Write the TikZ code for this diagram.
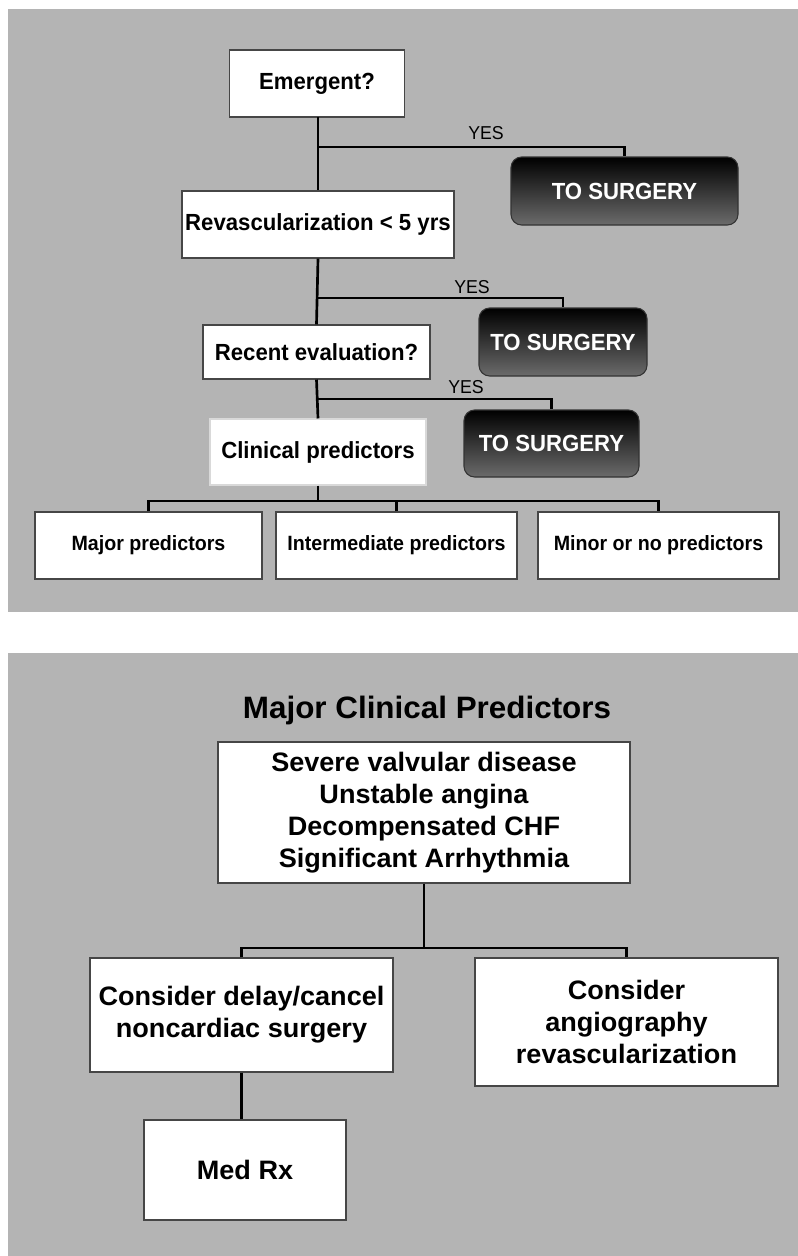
\documentclass[tikz,border=0pt]{standalone}
\usepackage{fontspec}
\setmainfont{Liberation Sans}
\newfontfamily\topfont[FakeStretch=0.95]{Liberation Sans}
\newfontfamily\botfont[FakeStretch=1.015]{Liberation Sans}
\definecolor{panelgray}{RGB}{180,180,180}
\definecolor{boxedge}{RGB}{70,70,70}
\begin{document}
\begin{tikzpicture}[x=0.75pt,y=-0.75pt,
  box/.style={draw=boxedge,line width=0.8pt,fill=white,inner sep=0pt,align=center},
  topbox/.style={box,font=\topfont\bfseries\fontsize{17.5}{21}\selectfont},
  predbox/.style={box,font=\topfont\bfseries\fontsize{15.5}{19}\selectfont},
  botbox/.style={box,font=\botfont\bfseries\fontsize{20}{24}\selectfont},
  surgbox/.style={draw=black!80,line width=0.8pt,rounded corners=8pt,top color=black,bottom color=black!58,
    text=white,inner sep=0pt,font=\topfont\bfseries\fontsize{17.5}{21}\selectfont},
  yeslabel/.style={font=\topfont\fontsize{14}{16}\selectfont,inner sep=0pt},
  conn/.style={line width=2pt,black}]
\useasboundingbox (0,0) rectangle (798,1256);
\fill[white] (0,0) rectangle (798,1256);
\fill[panelgray] (8,9) rectangle (798,612);
\fill[panelgray] (8,653) rectangle (798,1256);
% top panel
\node[topbox,minimum width=131.6pt,minimum height=50.25pt] (emerg) at (317,83.5) {Emergent?};
\node[topbox,minimum width=204pt,minimum height=50.25pt] (revasc) at (318,224.5) {Revascularization < 5 yrs};
\node[topbox,minimum width=170.25pt,minimum height=40.5pt] (recent) at (316.5,352) {Recent evaluation?};
\node[topbox,draw=white!85!black,minimum width=162pt,minimum height=49.5pt] (clin) at (318,452) {Clinical predictors};
\node[surgbox,minimum width=170.25pt,minimum height=51pt] (ts1) at (624.5,191) {TO SURGERY};
\node[surgbox,minimum width=126pt,minimum height=51pt] (ts2) at (563,342) {TO SURGERY};
\node[surgbox,minimum width=131.25pt,minimum height=50.25pt] (ts3) at (551.5,443.5) {TO SURGERY};
\node[predbox,minimum width=170.25pt,minimum height=50.25pt] (major) at (148.5,545.5) {Major predictors};
\node[predbox,minimum width=180.75pt,minimum height=50.25pt] (inter) at (396.5,545.5) {Intermediate predictors};
\node[predbox,minimum width=180.75pt,minimum height=50.25pt] (minor) at (658.5,545.5) {Minor or no predictors};
\node[yeslabel] (yes1) at (486,133) {YES};
\node[yeslabel] (yes2) at (472,287) {YES};
\node[yeslabel] (yes3) at (466,387) {YES};
\coordinate (b1) at (318,147);
\coordinate (b2) at (318,298);
\coordinate (b3) at (318,399);
\coordinate (b4) at (318,501);
\draw[conn] (318,117) -- (revasc.north);
\draw[conn] (revasc.south) -- (recent.north);
\draw[conn] (recent.south) -- (clin.north);
\draw[conn] (clin.south) -- (b4);
\draw[conn] (b1) -| (ts1.north);
\draw[conn] (b2) -| (ts2.north);
\draw[conn] (b3) -| (ts3.north);
\draw[conn] (major.north) |- (b4) -| (minor.north);
\draw[conn] (inter.north) -- (inter.north |- b4);
% bottom panel
\node[font=\botfont\bfseries\fontsize{23.2}{27}\selectfont,inner sep=0pt] (title) at (427,710) {Major Clinical Predictors};
\node[botbox,minimum width=309pt,minimum height=105.75pt] (mcp) at (424,812.5) {Severe valvular disease\\Unstable angina\\Decompensated CHF\\Significant Arrhythmia};
\node[botbox,minimum width=227.25pt,minimum height=85.5pt] (delay) at (241.5,1015) {Consider delay/cancel\\noncardiac surgery};
\node[botbox,minimum width=227.25pt,minimum height=96pt] (angio) at (626.5,1022) {Consider\\angiography\\revascularization};
\node[botbox,minimum width=151.5pt,minimum height=75pt] (medrx) at (245,1170) {Med Rx};
\coordinate (b5) at (424,948);
\draw[conn] (mcp.south) -- (b5);
\draw[conn] (delay.north) |- (b5) -| (angio.north);
\draw[conn] (delay.south) -- (delay.south |- medrx.north);
\end{tikzpicture}
\end{document}
